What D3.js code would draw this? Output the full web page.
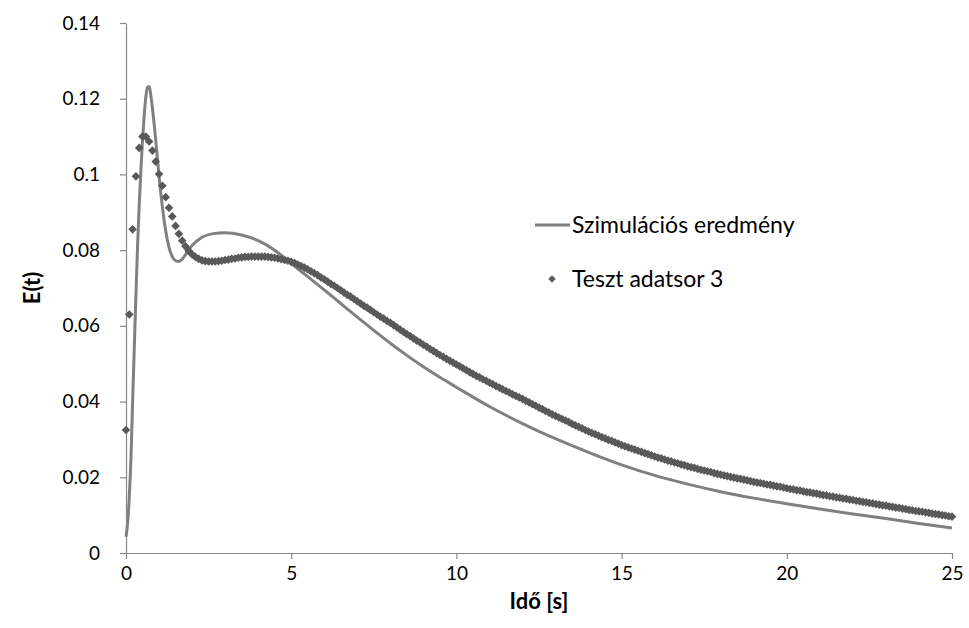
<!DOCTYPE html>
<html lang="en">
<head>
<meta charset="UTF-8">
<script src="https://d3js.org/d3.v7.min.js"></script>
<title>E(t)</title>
<style>
    body { margin: 0; padding: 0; background: #ffffff; }
    svg text { font-family: Lato, "Open Sans", sans-serif; fill: #000; }
    .axis path, .axis line { stroke: #868686; stroke-width: 1.2px; }
    .axis text { font-size: 19px; }
    .title { font-size: 22px; font-weight: bold; }
    .legend text { font-size: 23px; }
</style>
</head>
<body>
<div id="chart"></div>
<script>
    // tick labels
    var xTicks = [0, 5, 10, 15, 20, 25];
    var yTicks = [0, 0.02, 0.04, 0.06, 0.08, 0.1, 0.12, 0.14];
    var seriesNames = ["Szimulációs eredmény", "Teszt adatsor 3"];

    // simulation curve
    var simT = [0, 0.05, 0.1, 0.15, 0.2, 0.25, 0.3, 0.35, 0.4, 0.45, 0.5, 0.55, 0.6, 0.65, 0.7, 0.75,
        0.8, 0.85, 0.9, 1.0, 1.1, 1.2, 1.3, 1.4, 1.5, 1.6, 1.7, 1.8, 2.0, 2.3, 2.6, 3.0, 3.5, 4.0,
        4.5, 5.0, 5.5, 6, 6.5, 7, 7.5, 8, 8.5, 9, 9.5, 10, 11, 12, 13, 14, 15, 16, 17, 18, 19, 20,
        21, 22, 23, 24, 25];
    var simE = [0.0043, 0.008, 0.015, 0.025, 0.040, 0.054, 0.068, 0.081, 0.092, 0.101, 0.109, 0.1155,
        0.1205, 0.123, 0.1232, 0.121, 0.1175, 0.1135, 0.109, 0.0995, 0.0915, 0.0852, 0.0808, 0.0783,
        0.0772, 0.077, 0.0776, 0.0788, 0.0812, 0.0834, 0.0843, 0.0846, 0.0840, 0.0825, 0.0800, 0.0765,
        0.0730, 0.0695, 0.0659, 0.0623, 0.0588, 0.0554, 0.0522, 0.0492, 0.0464, 0.0438, 0.0387, 0.0342,
        0.0302, 0.0266, 0.0233, 0.0205, 0.0182, 0.0162, 0.0145, 0.0130, 0.0116, 0.0103, 0.0091, 0.0078,
        0.0066];

    // test data, one point every 0.1 s from 0 to 25
    var testStep = 0.1;
    var testE = [
        0.0325, 0.063, 0.0855, 0.0995, 0.107, 0.110, 0.110, 0.1087, 0.1063, 0.1034,
        0.1001, 0.097, 0.094, 0.0912, 0.0889, 0.0864, 0.0843, 0.0825, 0.081, 0.0798,
        0.0789, 0.0782, 0.0777, 0.0773, 0.0771, 0.077, 0.077, 0.077, 0.0771, 0.0772,
        0.0774, 0.0775, 0.0777, 0.0778, 0.078, 0.0781, 0.0782, 0.0782, 0.0783, 0.0783,
        0.0783, 0.0783, 0.0783, 0.0782, 0.0781, 0.0780, 0.0778, 0.0776, 0.0774, 0.0772,
        0.0769, 0.0766, 0.0762, 0.0758, 0.0754, 0.0749, 0.0744, 0.0739, 0.0734, 0.0728,
        0.0723, 0.0717, 0.0711, 0.0706, 0.0700, 0.0694, 0.0688, 0.0682, 0.0677, 0.0671,
        0.0665, 0.0659, 0.0653, 0.0648, 0.0642, 0.0636, 0.0630, 0.0624, 0.0619, 0.0613,
        0.0608, 0.0602, 0.0596, 0.0590, 0.0584, 0.0578, 0.0573, 0.0567, 0.0561, 0.0556,
        0.0550, 0.0545, 0.0539, 0.0534, 0.0528, 0.0523, 0.0518, 0.0513, 0.0508, 0.0503,
        0.0498, 0.0493, 0.0488, 0.0483, 0.0478, 0.0473, 0.0468, 0.0464, 0.0459, 0.0455,
        0.0450, 0.0446, 0.0441, 0.0437, 0.0432, 0.0428, 0.0424, 0.0419, 0.0415, 0.0411,
        0.0407, 0.0402, 0.0398, 0.0393, 0.0389, 0.0384, 0.0380, 0.0375, 0.0371, 0.0366,
        0.0362, 0.0358, 0.0354, 0.0350, 0.0346, 0.0341, 0.0337, 0.0333, 0.0329, 0.0325,
        0.0321, 0.0317, 0.0314, 0.0310, 0.0306, 0.0303, 0.0299, 0.0296, 0.0292, 0.0289,
        0.0285, 0.0282, 0.0279, 0.0276, 0.0273, 0.0270, 0.0267, 0.0264, 0.0261, 0.0258,
        0.0255, 0.0252, 0.0250, 0.0247, 0.0244, 0.0242, 0.0239, 0.0237, 0.0234, 0.0232,
        0.0229, 0.0227, 0.0225, 0.0222, 0.0220, 0.0218, 0.0216, 0.0214, 0.0211, 0.0209,
        0.0207, 0.0205, 0.0203, 0.0201, 0.0199, 0.0197, 0.0196, 0.0194, 0.0192, 0.0190,
        0.0188, 0.0186, 0.0185, 0.0183, 0.0181, 0.0180, 0.0178, 0.0176, 0.0175, 0.0173,
        0.0171, 0.0169, 0.0168, 0.0166, 0.0165, 0.0163, 0.0161, 0.0160, 0.0158, 0.0157,
        0.0155, 0.0153, 0.0152, 0.0150, 0.0149, 0.0147, 0.0146, 0.0144, 0.0143, 0.0141,
        0.0140, 0.0138, 0.0137, 0.0135, 0.0134, 0.0132, 0.0131, 0.0129, 0.0128, 0.0126,
        0.0125, 0.0123, 0.0122, 0.0120, 0.0119, 0.0117, 0.0116, 0.0114, 0.0113, 0.0111,
        0.0110, 0.0109, 0.0107, 0.0106, 0.0104, 0.0103, 0.0102, 0.0100, 0.0099, 0.0097,
        0.0096];

    var W = 969, H = 628;
    var margin = { top: 23, right: 16, bottom: 75, left: 126 },
        width = W - margin.left - margin.right,
        height = H - margin.top - margin.bottom;

    var svg = d3.select("#chart")
        .append("svg")
        .attr("width", W)
        .attr("height", H);

    var g = svg.append("g")
        .attr("transform", "translate(" + margin.left + "," + margin.top + ")");

    var x = d3.scaleLinear().domain([0, 25]).range([0, width - 1]);
    var y = d3.scaleLinear().domain([0, 0.14]).range([height, 0]);

    // axes
    g.append("g")
        .attr("class", "axis")
        .attr("transform", "translate(0," + height + ")")
        .call(d3.axisBottom(x).tickValues(xTicks).tickSize(6).tickSizeOuter(0).tickPadding(8)
            .tickFormat(d3.format("d")));

    g.append("g")
        .attr("class", "axis")
        .call(d3.axisLeft(y).tickValues(yTicks).tickSize(6).tickSizeOuter(0).tickPadding(20)
            .tickFormat(function (d) { return d === 0 ? "0" : String(+d.toFixed(2)); }));

    g.selectAll(".axis text").attr("fill", "#000");
    g.selectAll(".axis .domain").attr("stroke", "#868686");

    // simulation line
    var simData = simT.map(function (t, i) { return { t: t, e: simE[i] }; });
    g.append("path")
        .datum(simData)
        .attr("fill", "none")
        .attr("stroke", "#808080")
        .attr("stroke-width", 3)
        .attr("d", d3.line()
            .curve(d3.curveMonotoneX)
            .x(function (d) { return x(d.t); })
            .y(function (d) { return y(d.e); }));

    // test points as diamonds
    var diamond = d3.symbol().type(d3.symbolDiamond2).size(48);
    g.append("g")
        .selectAll("path")
        .data(testE)
        .enter()
        .append("path")
        .attr("d", diamond)
        .attr("fill", "#595959")
        .attr("transform", function (d, i) {
            return "translate(" + x(i * testStep) + "," + y(d) + ")";
        });

    // axis titles
    svg.append("text")
        .attr("class", "title")
        .attr("text-anchor", "middle")
        .attr("x", 539)
        .attr("y", 609)
        .text("Idő [s]");

    svg.append("text")
        .attr("class", "title")
        .attr("text-anchor", "middle")
        .attr("transform", "translate(40," + (margin.top + height / 2) + ") rotate(-90)")
        .text("E(t)");

    // legend
    var legend = svg.append("g").attr("class", "legend");
    legend.append("line")
        .attr("x1", 535).attr("x2", 570)
        .attr("y1", 225).attr("y2", 225)
        .attr("stroke", "#808080")
        .attr("stroke-width", 3);
    legend.append("text")
        .attr("x", 572).attr("y", 233)
        .text(seriesNames[0]);
    legend.append("path")
        .attr("d", d3.symbol().type(d3.symbolDiamond2).size(36))
        .attr("fill", "#595959")
        .attr("transform", "translate(552,279)");
    legend.append("text")
        .attr("x", 572).attr("y", 287)
        .text(seriesNames[1]);
</script>
</body>
</html>
